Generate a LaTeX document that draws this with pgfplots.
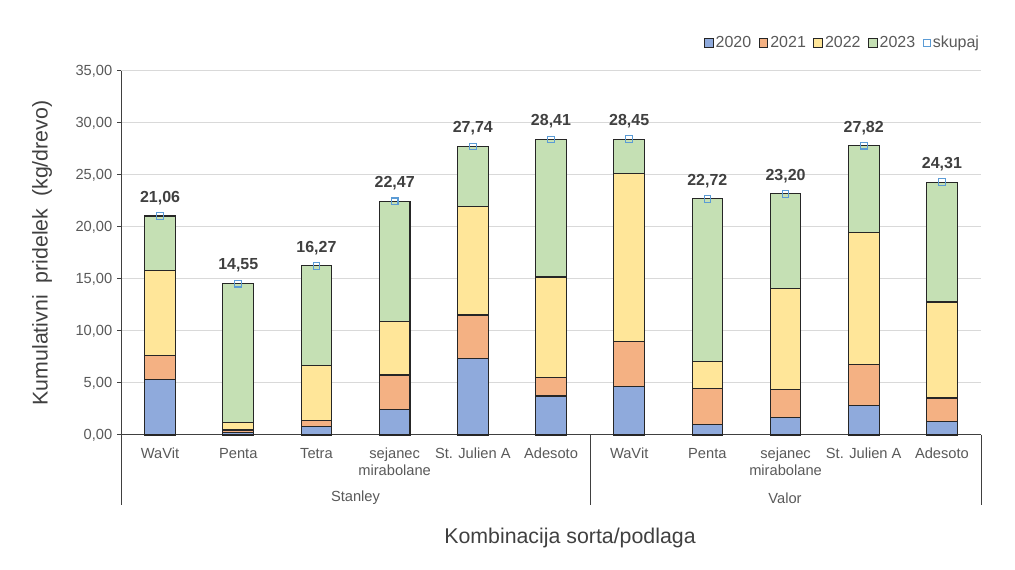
\documentclass[border=0pt]{standalone}
\usepackage{fontspec}
\setmainfont{Liberation Sans}
\usepackage{pgfplots}
\pgfplotsset{compat=1.18}
\usepackage{pgfplotstable}
\definecolor{c20}{HTML}{8FAADC}
\definecolor{c21}{HTML}{F4B183}
\definecolor{c22}{HTML}{FFE699}
\definecolor{c23}{HTML}{C5E0B4}
\definecolor{skup}{HTML}{5B9BD5}
\definecolor{txt}{HTML}{595959}
\definecolor{txtd}{HTML}{404040}
\definecolor{grd}{HTML}{D9D9D9}
\definecolor{edge}{HTML}{262626}

\pgfplotstableread{
x a b c d t
0 5.35 2.28 8.17 5.26 21.06
1 0.26 0.22 0.71 13.36 14.55
2 0.83 0.55 5.32 9.57 16.27
3 2.44 3.33 5.10 11.60 22.47
4 7.37 4.17 10.41 5.79 27.74
5 3.75 1.76 9.68 13.22 28.41
6 4.62 4.38 16.10 3.35 28.45
7 1.03 3.46 2.56 15.67 22.72
8 1.70 2.63 9.77 9.10 23.20
9 2.85 3.91 12.74 8.32 27.82
10 1.28 2.28 9.23 11.52 24.31
}\data

\pgfplotsset{
  sq/.style={legend image code/.code={\draw[##1, line width=0.7pt] (0pt,-3.3pt) rectangle (6.6pt,3.3pt);}},
  frame/.style={at={(90.75pt,101.25pt)}, anchor=south west, scale only axis,
    width=645pt, height=273pt, xmin=-0.5, xmax=10.5, ymin=0, ymax=35, clip=false},
}

\begin{document}
\begin{tikzpicture}
\useasboundingbox (0pt,0pt) rectangle (761.25pt,427.5pt);
\begin{axis}[frame,
  ybar stacked, bar width=23pt,
  axis lines=left, axis line style={-, draw=txtd, line width=0.75pt},
  ytick={0,5,...,35}, ymajorgrids, grid style={grd, line width=0.75pt},
  /pgf/number format/assume math mode=true,
  yticklabel style={/pgf/number format/.cd, fixed, fixed zerofill, precision=2, use comma, /tikz/.cd,
    font=\fontsize{11}{13}\selectfont, text=txt},
  tick align=outside, major tick length=3pt, tick style={draw=txtd, line width=0.75pt},
  xtick={0,...,10},
  xticklabels={WaVit, Penta, Tetra, {sejanec\\mirabolane}, St. Julien A, Adesoto, WaVit, Penta, {sejanec\\mirabolane}, St. Julien A, Adesoto},
  xticklabel style={align=center, anchor=north, inner sep=0pt, yshift=-6.5pt,
    font=\fontsize{11}{12.75}\selectfont, text=txt},
  x tick style={draw=none},
  legend columns=5,
  legend style={at={(rel axis cs:1.005,1.077)}, anchor=east, draw=none, fill=none,
    font=\fontsize{12}{14}\selectfont, text=txt,
    /tikz/every even column/.append style={column sep=4pt},
    nodes={inner sep=1.5pt}},
]
\addplot[fill=c20, draw=edge, line width=0.8pt, sq] table[x=x,y=a]{\data};
\addlegendentry{2020}
\addplot[fill=c21, draw=edge, line width=0.8pt, sq] table[x=x,y=b]{\data};
\addlegendentry{2021}
\addplot[fill=c22, draw=edge, line width=0.8pt, sq] table[x=x,y=c]{\data};
\addlegendentry{2022}
\addplot[fill=c23, draw=edge, line width=0.8pt, sq] table[x=x,y=d]{\data};
\addlegendentry{2023}
\addlegendimage{legend image code/.code={\draw[draw=skup, line width=0.75pt] (0.6pt,-2.7pt) rectangle (6.0pt,2.7pt);}}
\addlegendentry{skupaj}
\draw[draw=txtd, line width=0.75pt] (axis cs:-0.5,0) -- ++(0pt,-52.5pt);
\draw[draw=txtd, line width=0.75pt] (axis cs:5.5,0) -- ++(0pt,-52.5pt);
\draw[draw=txtd, line width=0.75pt] (axis cs:10.5,0) -- ++(0pt,-52.5pt);
\end{axis}
\begin{axis}[frame, hide axis]
\addplot[only marks, mark=square, mark size=2.5pt,
  mark options={draw=skup, line width=0.8pt, fill=none},
  point meta=y,
  nodes near coords={\pgfmathprintnumber[fixed, fixed zerofill, precision=2, use comma, assume math mode=true]{\pgfplotspointmeta}},
  every node near coord/.append style={font=\bfseries\fontsize{12}{14}\selectfont, text=txtd, anchor=center, yshift=13.5pt}]
  table[x=x,y=t]{\data};
\end{axis}
\node[font=\fontsize{11}{13}\selectfont, text=txt] at (266.6pt,54pt) {Stanley};
\node[font=\fontsize{11}{13}\selectfont, text=txt] at (588.75pt,54pt) {Valor};
\node[font=\fontsize{16}{19}\selectfont, text=txtd] at (427.5pt,24pt) {Kombinacija sorta/podlaga};
\node[font=\fontsize{16}{19}\selectfont, text=txtd, rotate=90] at (31.5pt,237.75pt) {Kumulativni\ \ pridelek\ \ (kg/drevo)};
\end{tikzpicture}
\end{document}
